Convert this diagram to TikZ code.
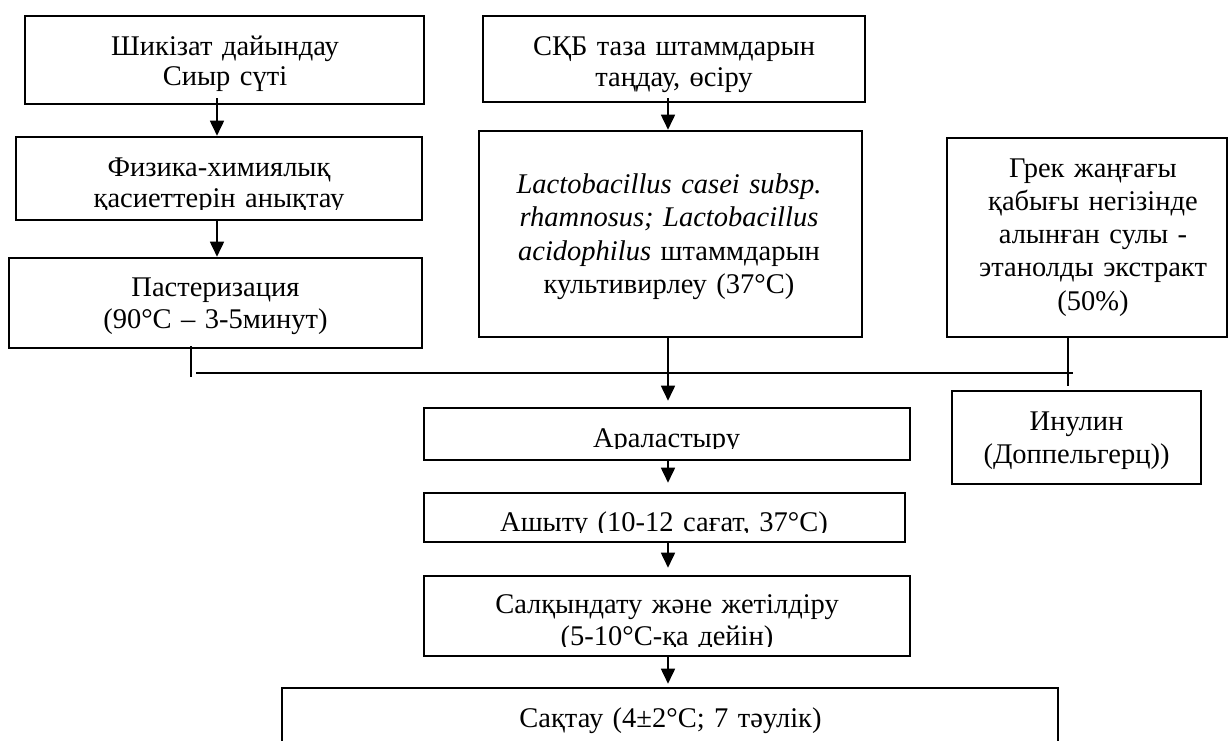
\documentclass[tikz,border=0pt]{standalone}
\usepackage{fontspec}
\setmainfont{Liberation Serif}
\usetikzlibrary{arrows.meta}
\tikzset{
  box/.style={draw, line width=2.6pt, rectangle, inner sep=0pt},
  txt/.style={inner sep=0pt, anchor=base, text width=420pt, align=center,
    font=\fontsize{28.5pt}{31pt}\selectfont},
  sk/.style={font=\fontsize{28.5pt}{#1}\selectfont},
  conn/.style={draw, line width=1.7pt},
  arr/.style={conn, -{Triangle[length=15pt,width=14pt]}},
}
\begin{document}
\begin{tikzpicture}[x=1pt,y=-1pt]
\useasboundingbox (0,0) rectangle (1228,740);
\clip (0,0) rectangle (1228,740);
% boxes
\node[box, minimum width=399pt, minimum height=88pt] (b1) at (224.5,60) {};
\node[box, minimum width=406pt, minimum height=83pt] (b2) at (219,178.5) {};
\node[box, minimum width=413pt, minimum height=90pt] (b3) at (215.5,303) {};
\node[box, minimum width=382pt, minimum height=86pt] (b4) at (674,59) {};
\node[box, minimum width=383pt, minimum height=206pt] (b5) at (670.5,234) {};
\node[box, minimum width=280pt, minimum height=199pt] (b6) at (1087,237.5) {};
\node[box, minimum width=249pt, minimum height=93pt] (b7) at (1076.5,437.5) {};
\node[box, minimum width=486pt, minimum height=52pt] (b8) at (667,434) {};
\node[box, minimum width=481pt, minimum height=49pt] (b9) at (664.5,517.5) {};
\node[box, minimum width=486pt, minimum height=80pt] (b10) at (667,616) {};
\node[box, minimum width=776pt, minimum height=92pt] (b11) at (670,734) {};
% texts
\node[txt, sk=30pt] (t1) at (225,55.5) {Шикізат дайындау\\Сиыр сүті};
\begin{scope}
\clip (0,0) rectangle (1228,209);
\node[txt, sk=31pt] (t2) at (219,176) {Физика-химиялық\\қасиеттерін анықтау};
\end{scope}
\node[txt, sk=31.5pt] (t3) at (215.5,296.5) {Пастеризация\\(90°C – 3-5минут)};
\node[txt, sk=31pt] (t4) at (674,55.5) {СҚБ таза штаммдарын\\таңдау, өсіру};
\node[txt, sk=33.5pt] (t5) at (669,193)
  {\textit{Lactobacillus casei subsp.}\\\textit{rhamnosus; Lactobacillus}\\\textit{acidophilus} штаммдарын\\культивирлеу (37°C)};
\node[txt, sk=33.3pt] (t6) at (1093,177)
  {Грек жаңғағы\\қабығы негізінде\\алынған сулы -\\этанолды экстракт\\(50\%)};
\node[txt, sk=33pt] (t7) at (1076.5,430) {Инулин\\(Доппельгерц))};
\begin{scope}
\clip (0,0) rectangle (1228,448);
\node[txt] (t8) at (666.5,447) {Араластыру};
\end{scope}
\begin{scope}
\clip (0,0) rectangle (1228,532);
\node[txt] (t9) at (664,531) {Ашыту (10-12 сағат, 37°C)};
\end{scope}
\begin{scope}
\clip (0,0) rectangle (1228,646);
\node[txt, sk=32pt] (t10) at (667,613) {Салқындату және жетілдіру\\(5-10°C-қа дейін)};
\end{scope}
\node[txt] (t11) at (670.5,727) {Сақтау (4±2°C; 7 тәулік)};
% connector points
\coordinate (hl) at (196,373);
\coordinate (hr) at (1073,373);
\coordinate (tk) at (191,377);
% connectors
\draw[arr] ([xshift=-7.5pt,yshift=7pt]b1.south) -- ([xshift=-2pt]b2.north);
\draw[arr] ([xshift=-2pt]b2.south) -- ([xshift=1.5pt]b3.north);
\draw[arr] ([xshift=-6pt,yshift=5pt]b4.south) -- ([xshift=-2.5pt]b5.north);
\draw[conn] ([xshift=-24.5pt,yshift=3pt]b3.south) -- (tk);
\draw[conn] (hl) -- (hr);
\draw[arr] ([xshift=-2.5pt]b5.south) -- ([xshift=1pt,yshift=6pt]b8.north);
\draw[conn] ([xshift=-19pt]b6.south) -- ([xshift=-8.5pt,yshift=4pt]b7.north);
\draw[arr] ([xshift=1pt]b8.south) -- ([xshift=3.5pt,yshift=9pt]b9.north);
\draw[arr] ([xshift=3.5pt]b9.south) -- ([xshift=1pt,yshift=7pt]b10.north);
\draw[arr] ([xshift=1pt]b10.south) -- ([xshift=-2pt,yshift=3pt]b11.north);
\end{tikzpicture}
\end{document}
